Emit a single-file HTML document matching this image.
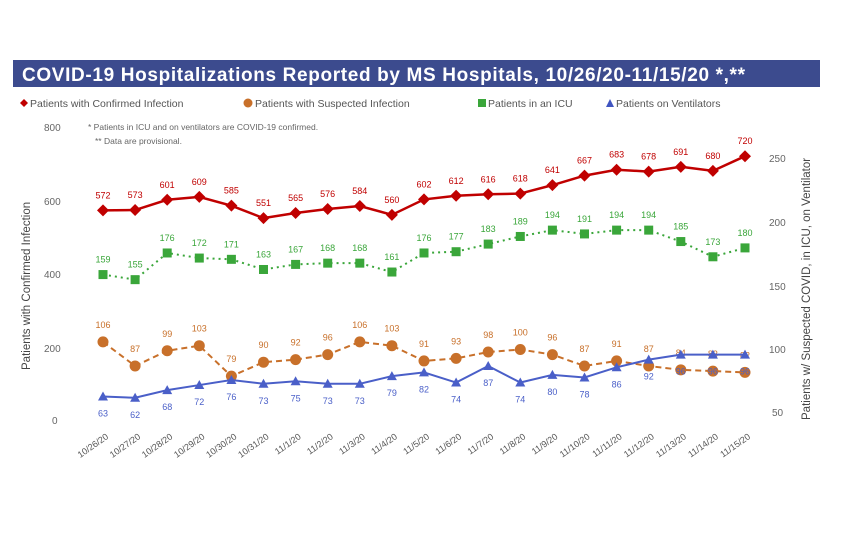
<!DOCTYPE html>
<html><head><meta charset="utf-8"><style>
body{margin:0;width:850px;height:531px;background:#fff;overflow:hidden;font-family:"Liberation Sans",sans-serif}
</style></head><body>
<svg width="850" height="531" xmlns="http://www.w3.org/2000/svg" font-family="Liberation Sans, sans-serif">
<rect x="13" y="60" width="807" height="27" fill="#3c4b8e"/>
<text x="22" y="81" fill="#fff" font-size="19" font-weight="bold" textLength="723" lengthAdjust="spacing">COVID-19 Hospitalizations Reported by MS Hospitals, 10/26/20-11/15/20 *,**</text>
<g font-size="10.5" fill="#555">
<path d="M24 99 l4 4 -4 4 -4 -4z" fill="#c00000"/><text x="30" y="107">Patients with Confirmed Infection</text>
<circle cx="248" cy="103" r="4.5" fill="#c8702a"/><text x="255" y="107">Patients with Suspected Infection</text>
<rect x="478" y="99" width="8" height="8" fill="#3aa63a"/><text x="488" y="107">Patients in an ICU</text>
<path d="M606 107 l4 -8 4 8z" fill="#4055c0"/><text x="616" y="107">Patients on Ventilators</text>
</g>
<g font-size="10" fill="#666">
<text x="44" y="131">800</text><text x="88" y="130" font-size="8.5">* Patients in ICU and on ventilators are COVID-19 confirmed.</text>
<text x="95" y="144" font-size="8.5">** Data are provisional.</text>
<text x="44" y="205" >600</text><text x="44" y="278">400</text><text x="44" y="352">200</text><text x="52" y="424">0</text>
<text x="769" y="162">250</text><text x="769" y="226">200</text><text x="769" y="290">150</text><text x="769" y="353">100</text><text x="772" y="416">50</text>
</g>
<text transform="translate(30,370) rotate(-90)" font-size="11.5" fill="#444">Patients with Confirmed Infection</text>
<text transform="translate(810,420) rotate(-90)" font-size="11.5" fill="#444">Patients w/ Suspected COVID, in ICU, on Ventilator</text>
<g id="chart"></g>
</svg>
<script>
const ns="http://www.w3.org/2000/svg",g=document.getElementById("chart");
const X=i=>103+i*32.1,L=v=>420-v*0.3664,R=v=>413-(v-50)*1.27;
const red=[572,573,601,609,585,551,565,576,584,560,602,612,616,618,641,667,683,678,691,680,720];
const grn=[159,155,176,172,171,163,167,168,168,161,176,177,183,189,194,191,194,194,185,173,180];
const org=[106,87,99,103,79,90,92,96,106,103,91,93,98,100,96,87,91,87,84,83,82];
const blu=[63,62,68,72,76,73,75,73,73,79,82,74,87,74,80,78,86,92,96,96,96];
const dates=["10/26/20","10/27/20","10/28/20","10/29/20","10/30/20","10/31/20","11/1/20","11/2/20","11/3/20","11/4/20","11/5/20","11/6/20","11/7/20","11/8/20","11/9/20","11/10/20","11/11/20","11/12/20","11/13/20","11/14/20","11/15/20"];
function el(t,a,txt){const e=document.createElementNS(ns,t);for(const k in a)e.setAttribute(k,a[k]);if(txt!=null)e.textContent=txt;g.appendChild(e);return e;}
function series(d,f,col,dash,w,mk,lab,labOff){
 el("polyline",{points:d.map((v,i)=>X(i)+","+f(v)).join(" "),fill:"none",stroke:col,"stroke-width":w,"stroke-dasharray":dash});
 d.forEach((v,i)=>{const x=X(i),y=f(v);
  if(mk=="d")el("path",{d:`M${x} ${y-6}l6 6-6 6-6-6z`,fill:col});
  if(mk=="c")el("circle",{cx:x,cy:y,r:5.5,fill:col});
  if(mk=="s")el("rect",{x:x-4.5,y:y-4.5,width:9,height:9,fill:col});
  if(mk=="t")el("path",{d:`M${x-5} ${y+4}l5-9 5 9z`,fill:col});
  el("text",{x:x,y:y+labOff,"text-anchor":"middle","font-size":9,fill:lab},v);
 });
}
series(org,R,"#c8702a","6 4",2,"c","#c8702a",-14);
series(blu,R,"#4a5fc8","",2,"t","#4a5fc8",20);
series(grn,R,"#3aa63a","2 4",2,"s","#3aa63a",-12);
series(red,L,"#c00000","",2.5,"d","#c00000",-12);
dates.forEach((d,i)=>{el("text",{transform:`translate(${X(i)+6},${438}) rotate(-35)`,"text-anchor":"end","font-size":9,fill:"#555"},d);});
</script>
</body></html>
